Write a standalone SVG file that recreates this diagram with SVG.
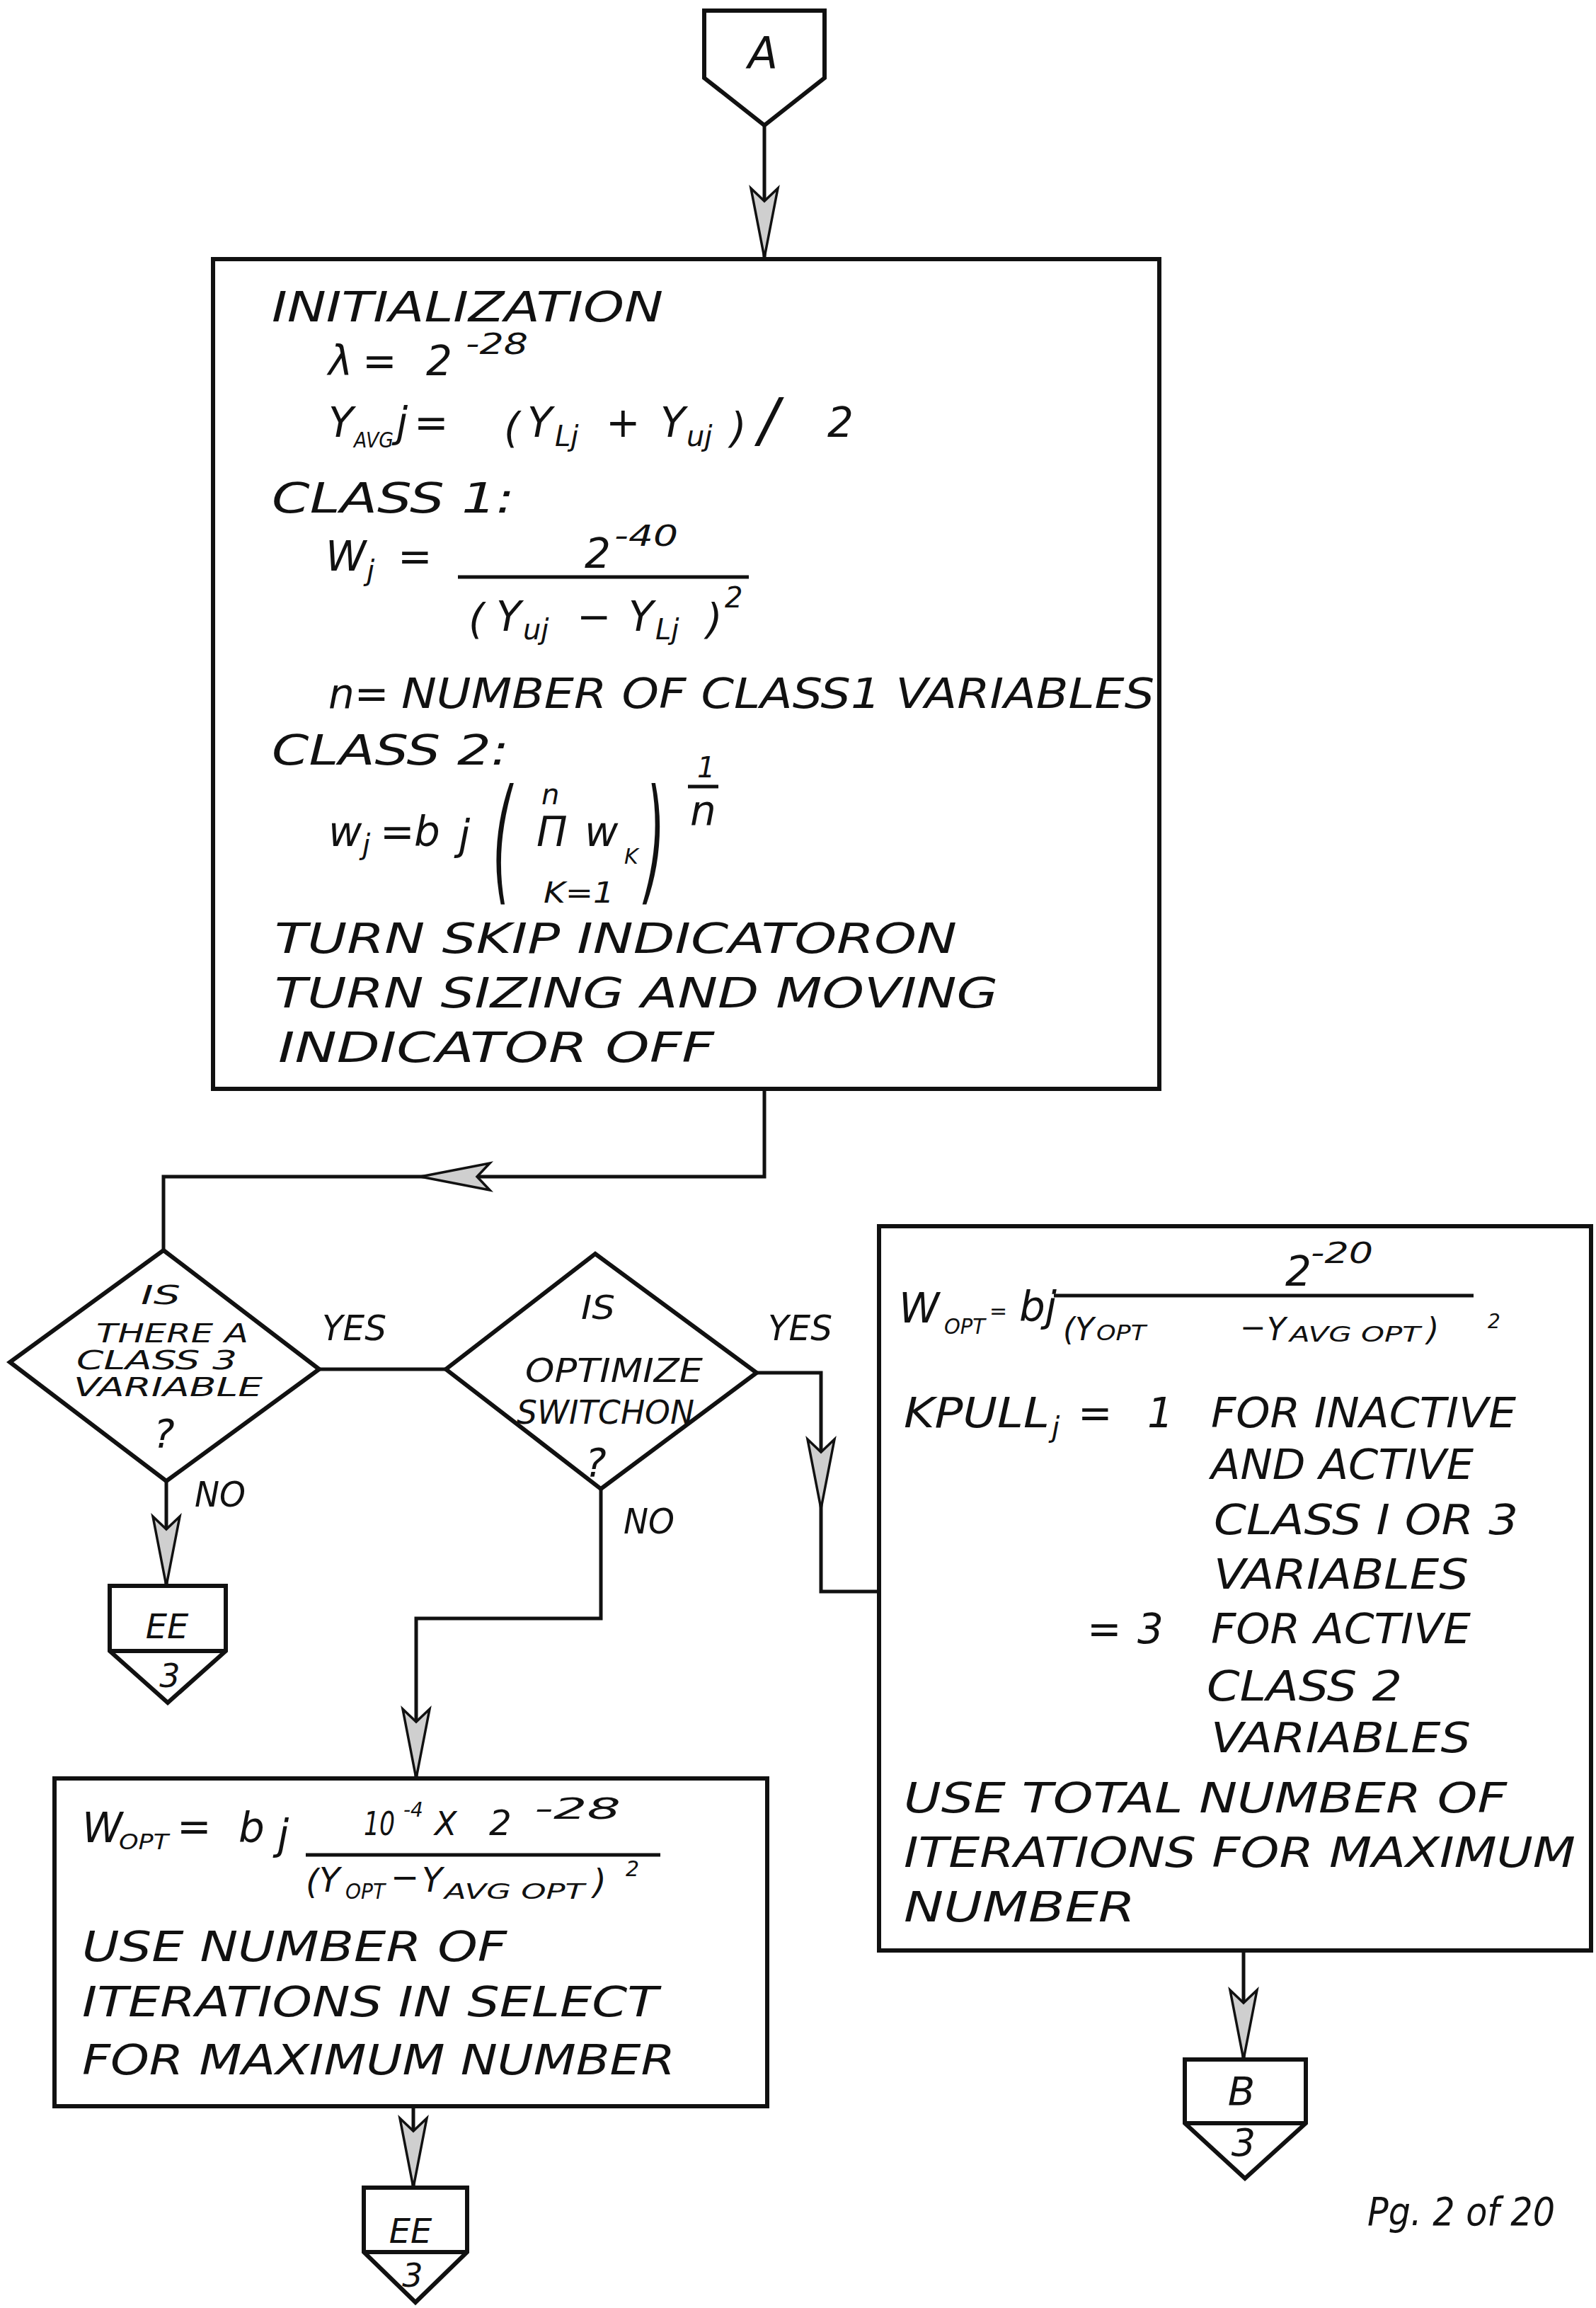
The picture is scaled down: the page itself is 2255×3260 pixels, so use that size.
<svg xmlns="http://www.w3.org/2000/svg" width="2255" height="3260" viewBox="0 0 2255 3260">
<style>
.bg{fill:#fff}
.n{fill:#fff;stroke:#111;stroke-width:6;stroke-linejoin:miter}
.dv{fill:none;stroke:#111;stroke-width:6}
.c{fill:none;stroke:#111;stroke-width:5}
.fb{stroke:#111;stroke-width:5}
.ah{fill:#cfcfcf;stroke:#111;stroke-width:3.5;stroke-linejoin:miter}
text{font-family:"DejaVu Sans","Liberation Sans",sans-serif;font-style:italic;fill:#111}
.m{font-size:58px}
.d1{font-size:38px}
.d2{font-size:46px}
.sub{font-size:30px}
.sup{font-size:40px}
.lab{font-size:50px}
.ctr{text-anchor:middle}
</style>
<defs>
<path id="dart" d="M0,0 L-19,-98 L0,-80 L19,-98 Z" class="ah"/>
</defs>
<rect class="bg" x="0" y="0" width="2255" height="3260"/>

<g id="connectors">
<path class="c" d="M1080,177 V366"/>
<path class="c" d="M1080,1538 V1662 H231 V1766"/>
<path class="c" d="M451,1934 H630"/>
<path class="c" d="M1069,1939 H1160 V2248 H1242"/>
<path class="c" d="M235,2092 V2240"/>
<path class="c" d="M849,2103 V2286 H588 V2512"/>
<path class="c" d="M584,2975 V3090"/>
<path class="c" d="M1757,2755 V2909"/>
<use href="#dart" transform="translate(1080,364)"/>
<use href="#dart" transform="translate(594,1662) rotate(90)"/>
<use href="#dart" transform="translate(1160,2131)"/>
<use href="#dart" transform="translate(235,2240)"/>
<use href="#dart" transform="translate(588,2512)"/>
<use href="#dart" transform="translate(584,3090)"/>
<use href="#dart" transform="translate(1757,2909)"/>
<text class="lab" x="455" y="1893" textLength="91" lengthAdjust="spacingAndGlyphs">YES</text>
<text class="lab" x="1085" y="1893" textLength="91" lengthAdjust="spacingAndGlyphs">YES</text>
<text class="lab" x="275" y="2128" textLength="72" lengthAdjust="spacingAndGlyphs">NO</text>
<text class="lab" x="881" y="2166" textLength="72" lengthAdjust="spacingAndGlyphs">NO</text>
</g>

<g id="conn-A">
<polygon class="n" points="995,15 1165,15 1165,110 1080,177 995,110"/>
<text class="ctr" x="1078" y="97" font-size="62">A</text>
</g>

<g id="init-box">
<rect class="n" x="301" y="366" width="1337" height="1172"/>
<text class="m" x="384" y="454" textLength="553" lengthAdjust="spacingAndGlyphs">INITIALIZATION</text>
<text class="m" x="464" y="530">λ</text>
<text class="m" x="512" y="530">=</text>
<text class="m" x="602" y="530">2</text>
<text class="sup" x="658" y="500" textLength="88" lengthAdjust="spacingAndGlyphs">-28</text>

<text class="m" x="464" y="617">Y</text>
<text class="sub" x="500" y="632" textLength="56" lengthAdjust="spacingAndGlyphs">AVG</text>
<text class="m" x="560" y="617" font-size="50">j</text>
<text class="m" x="585" y="617" font-size="62">=</text>
<text class="m" x="712" y="625" font-size="64">(</text>
<text class="m" x="745" y="617">Y</text>
<text class="sup" x="784" y="630">Lj</text>
<text class="m" x="856" y="617">+</text>
<text class="m" x="933" y="617">Y</text>
<text class="sup" x="970" y="630">uj</text>
<text class="m" x="1032" y="625" font-size="64">)</text>
<text x="1072" y="622" font-size="84" font-style="normal">/</text>
<text class="m" x="1169" y="617">2</text>

<text class="m" x="384" y="724" textLength="343" lengthAdjust="spacingAndGlyphs">CLASS 1:</text>
<text class="m" x="460" y="806">W</text>
<text class="sup" x="518" y="820">j</text>
<text class="m" x="562" y="806">=</text>
<text class="m" x="826" y="802">2</text>
<text class="sup" x="868" y="771" textLength="90" lengthAdjust="spacingAndGlyphs">-40</text>
<line class="fb" x1="647" y1="815" x2="1058" y2="815"/>
<text class="m" x="662" y="895" font-size="64">(</text>
<text class="m" x="701" y="891">Y</text>
<text class="sup" x="739" y="903">uj</text>
<text class="m" x="815" y="891">−</text>
<text class="m" x="888" y="891">Y</text>
<text class="sup" x="926" y="903">Lj</text>
<text class="m" x="998" y="895" font-size="64">)</text>
<text class="sup" x="1024" y="858" font-size="38">2</text>

<text class="m" x="464" y="1000">n=</text>
<text class="m" x="567" y="1000" textLength="1064" lengthAdjust="spacingAndGlyphs">NUMBER OF CLASS1 VARIABLES</text>

<text class="m" x="384" y="1080" textLength="335" lengthAdjust="spacingAndGlyphs">CLASS 2:</text>
<text class="m" x="464" y="1195">w</text>
<text class="sup" x="512" y="1207">j</text>
<text class="m" x="537" y="1195" font-size="46">=</text>
<text class="m" x="585" y="1195">b</text>
<text class="m" x="648" y="1200" font-size="52">j</text>
<text font-size="70" transform="translate(696,1253) scale(1,2.75)">(</text>
<text class="sup" x="765" y="1136">n</text>
<text class="m" x="758" y="1195">Π</text>
<text class="m" x="826" y="1195">w</text>
<text class="sub" x="882" y="1220" font-size="34">K</text>
<text class="sup" x="768" y="1275" textLength="100" lengthAdjust="spacingAndGlyphs">K=1</text>
<text font-size="70" transform="translate(912,1253) scale(1,2.75)">)</text>
<text class="sup" x="985" y="1098">1</text>
<line class="fb" x1="972" y1="1111" x2="1015" y2="1111"/>
<text class="m" x="975" y="1165" font-size="50">n</text>

<text class="m" x="388" y="1346" textLength="964" lengthAdjust="spacingAndGlyphs">TURN SKIP INDICATORON</text>
<text class="m" x="388" y="1423" textLength="1022" lengthAdjust="spacingAndGlyphs">TURN SIZING AND MOVING</text>
<text class="m" x="393" y="1500" textLength="616" lengthAdjust="spacingAndGlyphs">INDICATOR OFF</text>
</g>

<g id="dec-class3">
<polygon class="n" points="231,1766 451,1934 235,2092 14,1924"/>
<text class="d1" x="199" y="1842" textLength="56" lengthAdjust="spacingAndGlyphs">IS</text>
<text class="d1" x="136" y="1896" textLength="215" lengthAdjust="spacingAndGlyphs">THERE A</text>
<text class="d1" x="108" y="1934" textLength="227" lengthAdjust="spacingAndGlyphs">CLASS 3</text>
<text class="d1" x="104" y="1972" textLength="267" lengthAdjust="spacingAndGlyphs">VARIABLE</text>
<text x="217" y="2044" font-size="56">?</text>
</g>

<g id="dec-optimize">
<polygon class="n" points="841,1771 1069,1939 849,2103 630,1934"/>
<text class="d2" x="821" y="1863" textLength="48" lengthAdjust="spacingAndGlyphs">IS</text>
<text class="d2" x="742" y="1952" textLength="251" lengthAdjust="spacingAndGlyphs">OPTIMIZE</text>
<text class="d2" x="730" y="2011" textLength="251" lengthAdjust="spacingAndGlyphs">SWITCHON</text>
<text x="827" y="2085" font-size="56">?</text>
</g>

<g id="conn-EE1">
<polygon class="n" points="155,2240 319,2240 319,2332 237,2405 155,2332"/>
<line class="dv" x1="155" y1="2332" x2="319" y2="2332"/>
<text class="ctr" x="236" y="2314" font-size="48">EE</text>
<text class="ctr" x="240" y="2383" font-size="46">3</text>
</g>

<g id="opt-on-box">
<rect class="n" x="1242" y="1732" width="1006" height="1023"/>
<text class="m" x="1270" y="1868" font-size="48">W</text>
<text class="sub" x="1334" y="1884" textLength="58" lengthAdjust="spacingAndGlyphs">OPT</text>
<text x="1398" y="1862" font-size="30">=</text>
<text class="m" x="1440" y="1866" font-size="50">bj</text>
<text class="m" x="1816" y="1816" font-size="52">2</text>
<text class="sup" x="1852" y="1784" textLength="88" lengthAdjust="spacingAndGlyphs">-20</text>
<line class="fb" x1="1489" y1="1830" x2="2082" y2="1830"/>
<text x="1502" y="1893" font-size="44">(</text>
<text x="1519" y="1893" font-size="44">Y</text>
<text x="1549" y="1893" font-size="30" textLength="70" lengthAdjust="spacingAndGlyphs">OPT</text>
<text x="1752" y="1890" font-size="44">−</text>
<text x="1790" y="1893" font-size="44">Y</text>
<text x="1822" y="1895" font-size="30" textLength="185" lengthAdjust="spacingAndGlyphs">AVG OPT</text>
<text x="2016" y="1893" font-size="44">)</text>
<text x="2102" y="1876" font-size="28">2</text>

<text class="m" x="1277" y="2016" textLength="206" lengthAdjust="spacingAndGlyphs">KPULL</text>
<text class="sup" x="1486" y="2030">j</text>
<text class="m" x="1523" y="2016">=</text>
<text class="m" x="1621" y="2016">1</text>
<text class="m" x="1711" y="2016" textLength="431" lengthAdjust="spacingAndGlyphs">FOR INACTIVE</text>
<text class="m" x="1711" y="2089" textLength="371" lengthAdjust="spacingAndGlyphs">AND ACTIVE</text>
<text class="m" x="1715" y="2167" textLength="430" lengthAdjust="spacingAndGlyphs">CLASS I OR 3</text>
<text class="m" x="1715" y="2244" textLength="360" lengthAdjust="spacingAndGlyphs">VARIABLES</text>
<text class="m" x="1536" y="2321">=</text>
<text class="m" x="1607" y="2321">3</text>
<text class="m" x="1711" y="2321" textLength="367" lengthAdjust="spacingAndGlyphs">FOR ACTIVE</text>
<text class="m" x="1705" y="2402" textLength="276" lengthAdjust="spacingAndGlyphs">CLASS 2</text>
<text class="m" x="1711" y="2475" textLength="367" lengthAdjust="spacingAndGlyphs">VARIABLES</text>
<text class="m" x="1277" y="2560" textLength="852" lengthAdjust="spacingAndGlyphs">USE TOTAL NUMBER OF</text>
<text class="m" x="1277" y="2637" textLength="949" lengthAdjust="spacingAndGlyphs">ITERATIONS FOR MAXIMUM</text>
<text class="m" x="1277" y="2714" textLength="327" lengthAdjust="spacingAndGlyphs">NUMBER</text>
</g>

<g id="opt-off-box">
<rect class="n" x="77" y="2512" width="1007" height="463"/>
<text class="m" x="116" y="2602" font-size="50">W</text>
<text class="sub" x="168" y="2612" textLength="70" lengthAdjust="spacingAndGlyphs">OPT</text>
<text class="m" x="250" y="2600" font-size="46">=</text>
<text class="m" x="337" y="2602">b</text>
<text class="m" x="392" y="2612" font-size="52">j</text>
<text x="514" y="2592" font-size="46" textLength="44" lengthAdjust="spacingAndGlyphs">10</text>
<text x="570" y="2566" font-size="28">-4</text>
<text x="614" y="2592" font-size="46">X</text>
<text x="691" y="2592" font-size="50">2</text>
<text class="sup" x="755" y="2569" textLength="122" lengthAdjust="spacingAndGlyphs">-28</text>
<line class="fb" x1="432" y1="2620" x2="933" y2="2620"/>
<text x="432" y="2675" font-size="48">(</text>
<text x="451" y="2672" font-size="48">Y</text>
<text x="488" y="2682" font-size="30" textLength="56" lengthAdjust="spacingAndGlyphs">OPT</text>
<text x="552" y="2668" font-size="48">−</text>
<text x="596" y="2672" font-size="48">Y</text>
<text x="628" y="2682" font-size="30" textLength="198" lengthAdjust="spacingAndGlyphs">AVG OPT</text>
<text x="838" y="2675" font-size="48">)</text>
<text x="884" y="2650" font-size="30">2</text>
<text class="m" x="116" y="2770" textLength="600" lengthAdjust="spacingAndGlyphs">USE NUMBER OF</text>
<text class="m" x="116" y="2848" textLength="814" lengthAdjust="spacingAndGlyphs">ITERATIONS IN SELECT</text>
<text class="m" x="116" y="2930" textLength="838" lengthAdjust="spacingAndGlyphs">FOR MAXIMUM NUMBER</text>
</g>

<g id="conn-EE2">
<polygon class="n" points="514,3090 660,3090 660,3181 587,3252 514,3181"/>
<line class="dv" x1="514" y1="3181" x2="660" y2="3181"/>
<text class="ctr" x="580" y="3168" font-size="48">EE</text>
<text class="ctr" x="583" y="3230" font-size="46">3</text>
</g>

<g id="conn-B">
<polygon class="n" points="1674,2909 1845,2909 1845,2999 1759,3077 1674,2999"/>
<line class="dv" x1="1674" y1="2999" x2="1845" y2="2999"/>
<text class="ctr" x="1754" y="2973" font-size="56">B</text>
<text class="ctr" x="1757" y="3045" font-size="54">3</text>
</g>

<text x="1932" y="3143" font-size="56" textLength="265" lengthAdjust="spacingAndGlyphs">Pg. 2 of 20</text>
</svg>
